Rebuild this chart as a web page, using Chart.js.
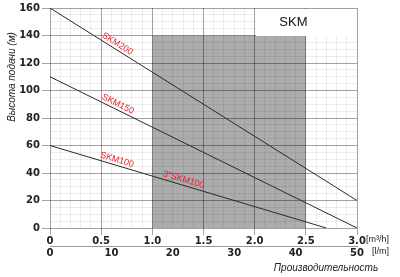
<!DOCTYPE html>
<html>
<head>
<meta charset="utf-8">
<script src="https://cdn.jsdelivr.net/npm/chart.js@4"></script>
<style>
  body { margin: 0; background: #fff; }
  #wrap { width: 400px; height: 277px; }
</style>
</head>
<body>
<div id="wrap"><canvas id="pumpChart" width="400" height="277"></canvas></div>
<script>
// pump curves, flow in m3/h, head in m
const seriesNames = ['SKM200', 'SKM150', 'SKM100'];
const skm200Flow = [0, 3.0];
const skm200Head = [160, 20];
const skm150Flow = [0, 3.0];
const skm150Head = [110, 0];
const skm100Flow = [0, 2.7];
const skm100Head = [60, 0];

const xTicksM3h = ['0', '0.5', '1.0', '1.5', '2.0', '2.5', '3.0'];
const xTicksLm = ['0', '10', '20', '30', '40', '50'];
const yTicks = ['0', '20', '40', '60', '80', '100', '120', '140', '160'];

// shaded working zone and title box (data units)
const workFlow = [1.0, 2.5];
const workHead = [0, 140];
const titleFlow = [2.0, 3.0];
const titleHead = [140, 160];

const toPoints = (xs, ys) => xs.map((x, i) => ({ x: x, y: ys[i] }));
const curves = [
  toPoints(skm200Flow, skm200Head),
  toPoints(skm150Flow, skm150Head),
  toPoints(skm100Flow, skm100Head)
];

const MAJOR = 'rgba(0,0,0,0.36)';
const MINOR = 'rgba(0,0,0,0.07)';
const isMajorX = v => Math.abs(v * 2 - Math.round(v * 2)) < 1e-6;
const isMajorY = v => Math.abs(v / 20 - Math.round(v / 20)) < 1e-6;

const tickFont = { family: 'DejaVu Sans', size: 10, weight: 'bold' };

// red labels along the curves: [curve index, flow, text]
const curveLabels = [
  [0, 0.63, 'SKM200'],
  [1, 0.64, 'SKM150'],
  [2, 0.64, 'SKM100'],
  [2, 1.29, '3"SKM100']
];

const decor = {
  id: 'decor',
  beforeDraw(chart) {
    const { ctx, scales: { x, y } } = chart;
    ctx.save();
    ctx.fillStyle = '#acacac';
    const l = x.getPixelForValue(workFlow[0]), r = x.getPixelForValue(workFlow[1]);
    const t = y.getPixelForValue(workHead[1]), b = y.getPixelForValue(workHead[0]);
    ctx.fillRect(l, t, r - l, b - t);
    ctx.restore();
  },
  beforeDatasetsDraw(chart) {
    const { ctx, scales: { x, y } } = chart;
    ctx.save();
    const l = Math.round(x.getPixelForValue(titleFlow[0])) + 1;
    const r = Math.round(x.getPixelForValue(titleFlow[1]));
    const t = Math.round(y.getPixelForValue(titleHead[1])) + 1;
    const b = Math.round(y.getPixelForValue(titleHead[0]));
    ctx.fillStyle = '#fff';
    ctx.fillRect(l, t, r - l, b - t);
    ctx.fillStyle = '#111';
    ctx.font = '13px "Liberation Sans", Arial, sans-serif';
    ctx.textAlign = 'center';
    ctx.textBaseline = 'middle';
    ctx.fillText('SKM', l + (r - l) * 0.37, (t + b) / 2);
    ctx.restore();
  },
  afterDatasetsDraw(chart) {
    const { ctx, scales: { x, y } } = chart;
    ctx.save();
    ctx.fillStyle = '#e8202a';
    ctx.font = '9px "Liberation Sans", Arial, sans-serif';
    ctx.textAlign = 'center';
    ctx.textBaseline = 'bottom';
    curveLabels.forEach(([ci, fx, text]) => {
      const pts = curves[ci];
      const x0 = x.getPixelForValue(pts[0].x), y0 = y.getPixelForValue(pts[0].y);
      const x1 = x.getPixelForValue(pts[1].x), y1 = y.getPixelForValue(pts[1].y);
      const px = x.getPixelForValue(fx);
      const py = y0 + (y1 - y0) * (px - x0) / (x1 - x0);
      ctx.save();
      ctx.translate(px, py);
      ctx.rotate(Math.atan2(y1 - y0, x1 - x0));
      ctx.fillText(text, 0, -1);
      ctx.restore();
    });

    // units and axis titles
    ctx.fillStyle = '#222';
    ctx.font = '9px "Liberation Sans", Arial, sans-serif';
    ctx.textAlign = 'left';
    ctx.textBaseline = 'middle';
    ctx.fillText('[m³/h]', 366, 240);
    ctx.fillText('[l/m]', 372, 252);

    ctx.font = 'italic 10px "Liberation Sans", Arial, sans-serif';
    ctx.textAlign = 'center';
    ctx.fillText('Производительность', 326, 268);
    ctx.save();
    ctx.translate(12, 77);
    ctx.rotate(-Math.PI / 2);
    ctx.fillText('Высота подачи (м)', 0, 0);
    ctx.restore();
    ctx.restore();
  }
};

new Chart(document.getElementById('pumpChart'), {
  type: 'line',
  data: {
    datasets: curves.map((pts, i) => ({
      label: seriesNames[i],
      data: pts,
      borderColor: '#2a2a2a',
      borderWidth: 1,
      pointRadius: 0,
      fill: false,
      xAxisID: 'x',
      yAxisID: 'y'
    }))
  },
  options: {
    responsive: false,
    animation: false,
    devicePixelRatio: 1,
    layout: { padding: { top: 6, right: 43, bottom: 19, left: 0 } },
    plugins: { legend: { display: false }, tooltip: { enabled: false } },
    scales: {
      x: {
        type: 'linear',
        position: 'bottom',
        weight: 0,
        min: 0, max: 3,
        afterFit: s => { s.height = 18; },
        border: { display: false },
        grid: {
          color: c => isMajorX(c.tick.value) ? MAJOR : MINOR,
          tickColor: c => isMajorX(c.tick.value) ? MAJOR : 'rgba(0,0,0,0)',
          tickLength: 7,
          lineWidth: 1
        },
        ticks: {
          stepSize: 0.1,
          autoSkip: false,
          maxRotation: 0,
          padding: 0,
          color: '#222',
          font: tickFont,
          callback: v => isMajorX(v) ? xTicksM3h[Math.round(v * 2)] : ''
        }
      },
      x2: {
        type: 'linear',
        axis: 'x',
        position: 'bottom',
        weight: 1,
        min: 0, max: 50,
        afterFit: s => { s.height = 12; },
        border: { display: true, color: '#9a9a9a', width: 1 },
        grid: { display: false, drawTicks: false },
        ticks: {
          stepSize: 10,
          autoSkip: false,
          maxRotation: 0,
          padding: 1,
          color: '#222',
          font: tickFont,
          callback: v => xTicksLm[Math.round(v / 10)]
        }
      },
      y: {
        type: 'linear',
        min: 0, max: 160,
        afterFit: s => { s.width = 50; },
        border: { display: false },
        grid: {
          color: c => isMajorY(c.tick.value) ? MAJOR : MINOR,
          tickColor: c => isMajorY(c.tick.value) ? MAJOR : 'rgba(0,0,0,0)',
          tickLength: 8,
          lineWidth: 1
        },
        ticks: {
          stepSize: 5,
          autoSkip: false,
          padding: 2,
          color: '#222',
          font: tickFont,
          callback: v => isMajorY(v) ? yTicks[Math.round(v / 20)] : ''
        }
      }
    }
  },
  plugins: [decor]
});
</script>
</body>
</html>
